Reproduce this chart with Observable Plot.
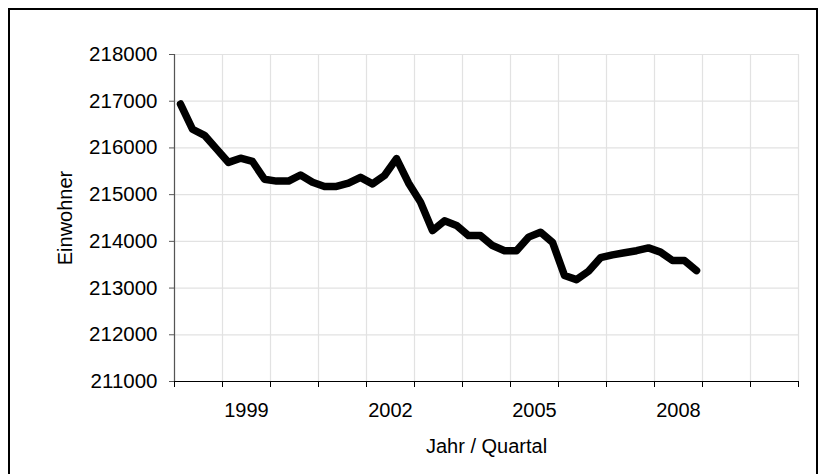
<!DOCTYPE html>
<html><head><meta charset="utf-8">
<script src="https://cdn.jsdelivr.net/npm/d3@7"></script>
<script src="https://cdn.jsdelivr.net/npm/@observablehq/plot@0.6"></script>
<style>
html,body{margin:0;padding:0;background:#fff;overflow:hidden;width:826px;height:474px;}
#frame{position:absolute;left:8px;top:8px;width:810px;height:490px;border:2px solid #000;box-sizing:border-box;}
#chart{position:absolute;left:0;top:0;}
</style></head><body><div id="frame"></div><div id="chart"></div>
<script>
const years = [1998,1999,2000,2001,2002,2003,2004,2005,2006,2007,2008];
const quarters = [1,2,3,4];
const values = [
  216940,216400,216270,215980, // 1998
  215690,215780,215710,215330, // 1999
  215290,215290,215420,215265, // 2000
  215175,215175,215245,215370, // 2001
  215230,215410,215770,215250, // 2002
  214840,214230,214440,214340, // 2003
  214125,214125,213910,213800, // 2004
  213800,214090,214195,213980, // 2005
  213270,213180,213360,213650, // 2006
  213710,213755,213800,213860, // 2007
  213770,213590,213590,213375  // 2008
];
const yTicks = [211000,212000,213000,214000,215000,216000,217000,218000];
const yearBounds = [1998,1999,2000,2001,2002,2003,2004,2005,2006,2007,2008,2009,2010,2011];
const xLabelYears = [1999,2002,2005,2008];
const yLabel = "Einwohner";
const xLabel = "Jahr / Quartal";

const data = [];
years.forEach((yr, i) => quarters.forEach((q, j) => {
  data.push({t: yr + (q - 0.5) / 4, v: values[i * 4 + j]});
}));

const font = "'Liberation Sans', Arial, Helvetica, sans-serif";
const chart = Plot.plot({
  width: 826, height: 474,
  marginLeft: 174, marginRight: 28, marginTop: 54, marginBottom: 93,
  style: {fontFamily: font, fontSize: "20px", background: "transparent", color: "#000", overflow: "visible"},
  x: {domain: [1998, 2011]},
  y: {domain: [211000, 218000]},
  marks: [
    Plot.ruleY(yTicks, {stroke: "#e2e2e2", strokeWidth: 1.2}),
    Plot.ruleX(yearBounds, {stroke: "#e2e2e2", strokeWidth: 1.2}),
    Plot.line(data, {x: "t", y: "v", stroke: "#000", strokeWidth: 7.5, strokeLinejoin: "round", strokeLinecap: "round"}),
    Plot.ruleX([1998], {stroke: "#555", strokeWidth: 1.2}),
    Plot.ruleY([211000], {stroke: "#000", strokeWidth: 1.2}),
    Plot.axisY({ticks: yTicks, tickSize: 5, tickPadding: 12, tickFormat: d => String(d), label: null, fontSize: 20.5, stroke: "#555"}),
    Plot.axisX({ticks: yearBounds, tickSize: 6, tickFormat: () => "", label: null, stroke: "#000"}),
    Plot.text(xLabelYears, {x: d => d + 0.5, y: 211000, dy: 29, text: d => String(d), fontSize: 20}),
    Plot.text([yLabel], {frameAnchor: "left", textAnchor: "middle", dx: -109, rotate: -90, fontSize: 20}),
    Plot.text([xLabel], {frameAnchor: "bottom", textAnchor: "middle", dy: 71, fontSize: 20})
  ]
});
document.getElementById("chart").appendChild(chart);
</script></body></html>
